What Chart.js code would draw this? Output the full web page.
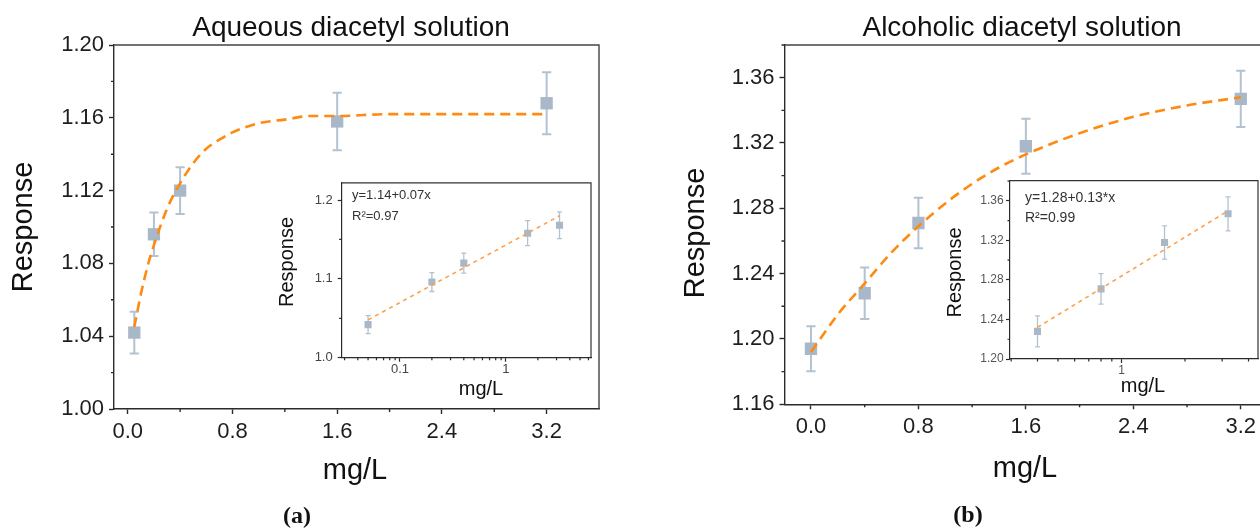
<!DOCTYPE html>
<html><head><meta charset="utf-8">
<script src="https://cdn.jsdelivr.net/npm/chart.js@4.4.1/dist/chart.umd.min.js"></script>
<style>
html,body{margin:0;padding:0;background:#fff;overflow:hidden}
#wrap{position:relative;width:1260px;height:530px;overflow:hidden;background:#fff}
canvas{position:absolute}
</style></head><body>
<div id="wrap">
<canvas id="mainA" width="620" height="530" style="left:0;top:0"></canvas>
<canvas id="mainB" width="680" height="530" style="left:640px;top:0"></canvas>
<canvas id="insetA" width="330" height="230" style="left:270px;top:170px"></canvas>
<canvas id="insetB" width="340" height="230" style="left:930px;top:170px"></canvas>
</div>
<script>
// ---------- data ----------
const aConc = [0.05, 0.2, 0.4, 1.6, 3.2];
const aResp = [1.042, 1.096, 1.120, 1.158, 1.168];
const aErr  = [0.0115, 0.012, 0.0128, 0.0158, 0.017];
const aFitX = [0.05, 0.1, 0.15, 0.2, 0.3, 0.4, 0.5, 0.6, 0.7, 0.8, 1.0, 1.2, 1.4, 1.6, 2.0, 2.4, 2.8, 3.2];
const aFitY = [1.045, 1.063, 1.078, 1.090, 1.110, 1.124, 1.135, 1.143, 1.148, 1.152, 1.157, 1.159, 1.161, 1.161, 1.162, 1.162, 1.162, 1.162];
const aInsetFitX = [0.05, 3.2];
const aInsetFitY = [1.048, 1.180];

const bConc = [0, 0.4, 0.8, 1.6, 3.2];
const bResp = [1.194, 1.228, 1.271, 1.318, 1.347];
const bErr  = [0.0138, 0.0157, 0.0154, 0.0168, 0.0172];
const bFitX = [0, 0.2, 0.4, 0.6, 0.8, 1.0, 1.2, 1.4, 1.6, 2.0, 2.4, 2.8, 3.2];
const bFitY = [1.192, 1.215, 1.234, 1.253, 1.269, 1.283, 1.295, 1.305, 1.313, 1.326, 1.336, 1.343, 1.348];
const bInsetConc = [0.4, 0.8, 1.6, 3.2];
const bInsetResp = [1.228, 1.271, 1.318, 1.347];
const bInsetErr  = [0.0157, 0.0154, 0.0168, 0.0172];
const bInsetFitX = [0.4, 3.2];
const bInsetFitY = [1.232, 1.350];

// tick values
const mainXTicks = [0, 0.8, 1.6, 2.4, 3.2];
const mainXMinor = [0.4, 1.2, 2.0, 2.8];
const aYTicks = [1.00, 1.04, 1.08, 1.12, 1.16, 1.20];
const aYMinor = [1.02, 1.06, 1.10, 1.14, 1.18];
const bYTicks = [1.16, 1.20, 1.24, 1.28, 1.32, 1.36];
const bYMinor = [1.18, 1.22, 1.26, 1.30, 1.34, 1.38];
const aInsetYTicks = [1.0, 1.1, 1.2];
const aInsetYMinor = [1.05, 1.15];
const aInsetXTicks = [0.1, 1];
const aInsetXMinor = [0.03, 0.04, 0.05, 0.06, 0.07, 0.08, 0.09, 0.2, 0.3, 0.4, 0.5, 0.6, 0.7, 0.8, 0.9, 2, 3, 4, 5, 6];
const bInsetYTicks = [1.20, 1.24, 1.28, 1.32, 1.36];
const bInsetYMinor = [1.22, 1.26, 1.30, 1.34, 1.38];
const bInsetXTicks = [1];
const bInsetXMinor = [0.3, 0.4, 0.5, 0.6, 0.7, 0.8, 0.9, 2, 3, 4];

// ---------- styling ----------
const SANS = '"Liberation Sans", Arial, sans-serif';
const SERIF = '"Liberation Serif", "Times New Roman", serif';
const MARK = '#a8b8c9';
const ERRC = '#b3c2d1';
const AXIS = '#2b2b2b';

function pts(xs, ys) { return xs.map((x, i) => ({ x: x, y: ys[i] })); }

function decor(s) {
  return {
    id: 'decor',
    beforeDraw(chart) {
      if (!s.fillArea) return;
      const a = chart.chartArea, ctx = chart.ctx;
      ctx.save(); ctx.fillStyle = '#fff';
      ctx.fillRect(a.left, a.top, a.right - a.left, a.bottom - a.top);
      ctx.restore();
    },
    beforeDatasetsDraw(chart) {
      const ctx = chart.ctx, xs = chart.scales.x, ys = chart.scales.y;
      ctx.save();
      ctx.strokeStyle = ERRC; ctx.lineWidth = s.errW;
      s.x.forEach((xv, i) => {
        const px = xs.getPixelForValue(xv);
        const y1 = ys.getPixelForValue(s.y[i] - s.err[i]);
        const y2 = ys.getPixelForValue(s.y[i] + s.err[i]);
        ctx.beginPath();
        ctx.moveTo(px, y1); ctx.lineTo(px, y2);
        ctx.moveTo(px - s.cap, y1); ctx.lineTo(px + s.cap, y1);
        ctx.moveTo(px - s.cap, y2); ctx.lineTo(px + s.cap, y2);
        ctx.stroke();
      });
      ctx.restore();
    },
    afterDraw(chart) {
      const ctx = chart.ctx, a = chart.chartArea, xs = chart.scales.x, ys = chart.scales.y;
      ctx.save();
      // frame
      ctx.strokeStyle = s.frameColor; ctx.lineWidth = s.axisW;
      ctx.beginPath();
      ctx.moveTo(a.left, a.top); ctx.lineTo(a.right, a.top); ctx.lineTo(a.right, a.bottom);
      ctx.stroke();
      // minor ticks
      ctx.strokeStyle = AXIS; ctx.lineWidth = s.axisW;
      ctx.beginPath();
      s.xMinor.forEach(v => {
        const px = xs.getPixelForValue(v);
        if (px < a.left || px > a.right) return;
        ctx.moveTo(px, a.bottom); ctx.lineTo(px, a.bottom + s.minorLen);
      });
      s.yMinor.forEach(v => {
        const py = ys.getPixelForValue(v);
        if (py < a.top - 0.5 || py > a.bottom) return;
        ctx.moveTo(a.left, py); ctx.lineTo(a.left - s.minorLen, py);
      });
      ctx.stroke();
      // texts
      s.texts.forEach(t => {
        ctx.save();
        ctx.translate(t.x, t.y);
        if (t.rot) ctx.rotate(-Math.PI / 2);
        ctx.font = (t.weight || 'normal') + ' ' + t.size + 'px ' + (t.family || SANS);
        ctx.fillStyle = t.color || '#111';
        ctx.textAlign = t.align || 'center';
        ctx.textBaseline = 'alphabetic';
        ctx.fillText(t.t, 0, 0);
        ctx.restore();
      });
      ctx.restore();
    }
  };
}

function build(id, s) {
  const tickFont = { family: SANS, size: s.tickSize };
  return new Chart(document.getElementById(id), {
    type: 'scatter',
    data: { datasets: [
      { data: pts(s.fitX, s.fitY), showLine: true, pointRadius: 0, borderColor: s.fitColor,
        borderWidth: s.fitW, borderDash: s.fitDash, cubicInterpolationMode: 'monotone', fill: false },
      { data: pts(s.x, s.y), showLine: false, pointStyle: 'rect', pointRadius: s.pr,
        pointBackgroundColor: MARK, pointBorderColor: MARK, pointBorderWidth: 0 }
    ]},
    options: {
      responsive: false, maintainAspectRatio: false, animation: false, devicePixelRatio: 1,
      events: [],
      layout: { padding: { left: 0, top: s.padTop, right: s.padRight, bottom: 0 } },
      plugins: { legend: { display: false }, tooltip: { enabled: false } },
      scales: {
        x: {
          type: s.xType, min: s.xMin, max: s.xMax,
          afterFit: sc => { sc.height = s.xH; },
          afterBuildTicks: sc => { sc.ticks = s.xTicks.map(v => ({ value: v })); },
          ticks: { font: tickFont, color: s.tickColor, padding: s.xPad, maxRotation: 0, autoSkip: false,
                   callback: v => s.xFmt(v) },
          grid: { display: true, drawOnChartArea: false, drawTicks: true, tickLength: s.majorLen,
                  tickColor: AXIS, tickWidth: s.axisW },
          border: { display: true, color: AXIS, width: s.axisW }
        },
        y: {
          type: 'linear', min: s.yMin, max: s.yMax,
          afterFit: sc => { sc.width = s.yW; },
          afterBuildTicks: sc => { sc.ticks = s.yTicks.map(v => ({ value: v })); },
          ticks: { font: tickFont, color: s.tickColor, padding: s.yPad, autoSkip: false,
                   callback: v => v.toFixed(s.yDec) },
          grid: { display: true, drawOnChartArea: false, drawTicks: true, tickLength: s.majorLen,
                  tickColor: AXIS, tickWidth: s.axisW },
          border: { display: true, color: AXIS, width: s.axisW }
        }
      }
    },
    plugins: [decor(s)]
  });
}

const mainCommon = {
  xType: 'linear', xTicks: mainXTicks, xMinor: mainXMinor, xFmt: v => v.toFixed(1),
  tickSize: 22, tickColor: '#1e1e1e', majorLen: 5, minorLen: 3, axisW: 1.4, frameColor: '#444',
  fitColor: '#ff8a12', fitW: 2.6, fitDash: [10, 6], pr: 8.7, errW: 2, cap: 4.6, yPad: 5, yDec: 2, fillArea: false
};

build('mainA', Object.assign({}, mainCommon, {
  x: aConc, y: aResp, err: aErr, fitX: aFitX, fitY: aFitY,
  xMin: -0.105, xMax: 3.6, yMin: 1.0, yMax: 1.2, yTicks: aYTicks, yMinor: aYMinor,
  padTop: 45, padRight: 21, yW: 114, xH: 121, xPad: 5,
  texts: [
    { t: 'Aqueous diacetyl solution', x: 351, y: 36, size: 28 },
    { t: 'Response', x: 32, y: 227, size: 29, rot: true },
    { t: 'mg/L', x: 355, y: 479, size: 29 },
    { t: '(a)', x: 297, y: 523, size: 24, weight: 'bold', family: SERIF }
  ]
}));

build('mainB', Object.assign({}, mainCommon, {
  x: bConc, y: bResp, err: bErr, fitX: bFitX, fitY: bFitY,
  xMin: -0.197, xMax: 3.6, yMin: 1.16, yMax: 1.38, yTicks: bYTicks, yMinor: bYMinor,
  padTop: 45, padRight: 25.5, yW: 144.5, xH: 125.7, xPad: 4,
  texts: [
    { t: 'Alcoholic diacetyl solution', x: 382, y: 36, size: 28 },
    { t: 'Response', x: 63.5, y: 233, size: 29, rot: true },
    { t: 'mg/L', x: 385, y: 477, size: 29 },
    { t: '(b)', x: 328, y: 522, size: 24, weight: 'bold', family: SERIF }
  ]
}));

const insetCommon = {
  xType: 'logarithmic', xFmt: v => String(v), tickColor: '#444', majorLen: 4, minorLen: 2.5,
  axisW: 1.2, frameColor: '#333', fitColor: '#ffa04a', fitW: 1.6, fitDash: [4, 4],
  pr: 5, errW: 1.3, cap: 2.5, fillArea: true
};

build('insetA', Object.assign({}, insetCommon, {
  x: aConc, y: aResp, err: aErr, fitX: aInsetFitX, fitY: aInsetFitY,
  xMin: 0.0282, xMax: 6.34, yMin: 1.0, yMax: 1.2219,
  xTicks: aInsetXTicks, xMinor: aInsetXMinor, yTicks: aInsetYTicks, yMinor: aInsetYMinor,
  padTop: 8, padRight: 9, yW: 71.7, xH: 42.3, xPad: 0, yPad: 5, yDec: 1, tickSize: 13,
  texts: [
    { t: 'y=1.14+0.07x', x: 82, y: 29.3, size: 13, align: 'left', color: '#333' },
    { t: 'R\u00b2=0.97', x: 82, y: 50, size: 13, align: 'left', color: '#333' },
    { t: 'Response', x: 23, y: 92, size: 20, rot: true },
    { t: 'mg/L', x: 211, y: 225, size: 20 }
  ]
}));

build('insetB', Object.assign({}, insetCommon, {
  x: bInsetConc, y: bInsetResp, err: bInsetErr, fitX: bInsetFitX, fitY: bInsetFitY,
  xMin: 0.2963, xMax: 4.436, yMin: 1.20, yMax: 1.3805,
  xTicks: bInsetXTicks, xMinor: bInsetXMinor, yTicks: bInsetYTicks, yMinor: bInsetYMinor,
  padTop: 10.7, padRight: 12, yW: 80, xH: 41, xPad: 0, yPad: 2.3, yDec: 2, tickSize: 12, tickColor: '#555',
  texts: [
    { t: 'y=1.28+0.13*x', x: 95, y: 32.3, size: 14, align: 'left', color: '#333' },
    { t: 'R\u00b2=0.99', x: 95, y: 52.3, size: 14, align: 'left', color: '#333' },
    { t: 'Response', x: 31, y: 102.5, size: 20, rot: true },
    { t: 'mg/L', x: 213, y: 221.7, size: 20 }
  ]
}));
</script>
</body></html>
